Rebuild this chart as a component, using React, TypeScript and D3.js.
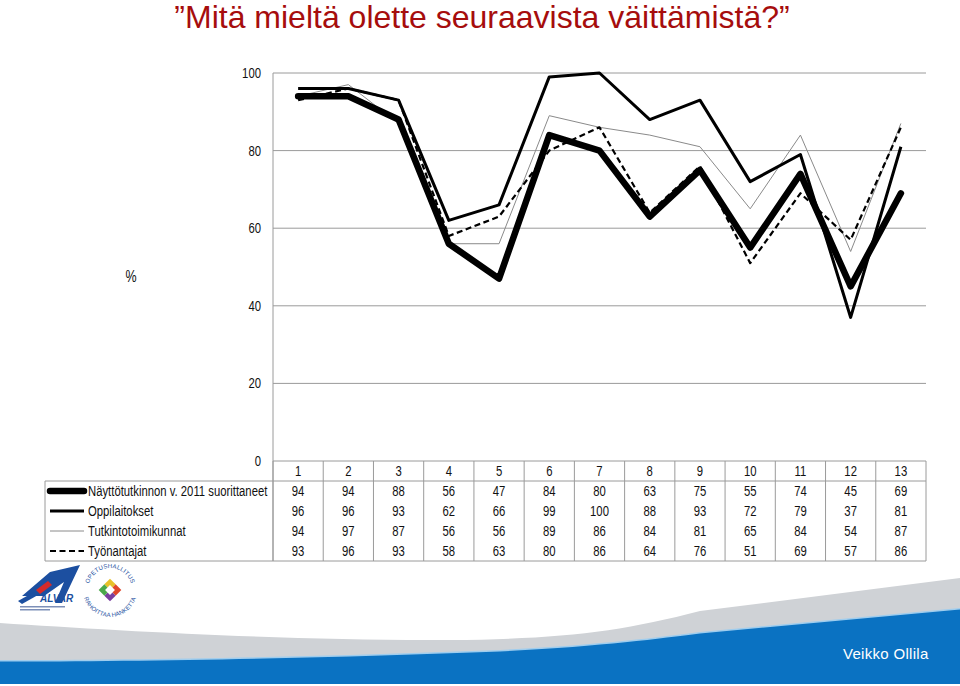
import React from "react";
import * as d3 from "d3";

const categories = ["1", "2", "3", "4", "5", "6", "7", "8", "9", "10", "11", "12", "13"];
const seriesNames = [
  "Näyttötutkinnon v. 2011 suorittaneet",
  "Oppilaitokset",
  "Tutkintotoimikunnat",
  "Työnantajat",
];
const nayttoValues = [94, 94, 88, 56, 47, 84, 80, 63, 75, 55, 74, 45, 69];
const oppilaitosValues = [96, 96, 93, 62, 66, 99, 100, 88, 93, 72, 79, 37, 81];
const tutkintoValues = [94, 97, 87, 56, 56, 89, 86, 84, 81, 65, 84, 54, 87];
const tyonantajaValues = [93, 96, 93, 58, 63, 80, 86, 64, 76, 51, 69, 57, 86];
const yTicks = [0, 20, 40, 60, 80, 100];
const title = "”Mitä mieltä olette seuraavista väittämistä?”";
const yLabel = "%";
const author = "Veikko Ollila";

const seriesValues = [nayttoValues, oppilaitosValues, tutkintoValues, tyonantajaValues];
const seriesStyle = [
  { stroke: "#000", width: 6.5, dash: "" },
  { stroke: "#000", width: 3, dash: "" },
  { stroke: "#8a8a8a", width: 1, dash: "" },
  { stroke: "#000", width: 2.2, dash: "6,3.5" },
];
const drawOrder = [2, 3, 1, 0];

const FONT = "'Liberation Sans', Arial, Helvetica, sans-serif";
const NARROW = 0.78;

function NText({ x, y, anchor = "middle", size = 14, children, fill = "#111" }: any) {
  return (
    <g transform={`translate(${x},${y}) scale(${NARROW},1)`}>
      <text x={0} y={0} textAnchor={anchor} fontSize={size} fontFamily={FONT} fill={fill}>
        {children}
      </text>
    </g>
  );
}

export default function App() {
  const W = 960;
  const H = 686;
  const x = d3.scaleBand<string>().domain(categories).range([273, 926]).padding(0);
  const y = d3.scaleLinear().domain([0, 100]).range([461, 73]);
  const cx = (i: number) => (x(categories[i]) as number) + x.bandwidth() / 2;
  const line = d3
    .line<number>()
    .x((_, i) => cx(i))
    .y((d) => y(d));

  const tableTop = y(0);
  const rowH = 20;
  const legendLeft = 45;
  const tableRight = 926;
  const tableBottom = tableTop + rowH * 5;
  const gridColor = "#9a9a9a";

  return (
    <svg
      width={W}
      height={H}
      viewBox={`0 0 ${W} ${H}`}
      style={{ position: "absolute", left: 0, top: 0, background: "#fff" }}
    >
      <rect x={0} y={0} width={W} height={H} fill="#fff" />
      {/* title */}
      <text x={482} y={28} textAnchor="middle" fontSize={32} fontFamily={FONT} fill="#a60d0d">
        {title}
      </text>

      {/* gridlines */}
      {yTicks.map((t) => (
        <line
          key={"g" + t}
          x1={273}
          x2={tableRight}
          y1={y(t)}
          y2={y(t)}
          stroke={gridColor}
          strokeWidth={1}
        />
      ))}
      <line x1={273} x2={273} y1={y(100)} y2={tableBottom} stroke={gridColor} strokeWidth={1} />
      {yTicks.map((t) => (
        <NText key={"t" + t} x={261} y={y(t) + 5} anchor="end" size={14.5}>
          {t}
        </NText>
      ))}
      <NText x={131} y={282} size={16}>
        {yLabel}
      </NText>

      {/* series lines */}
      {drawOrder.map((s) => (
        <path
          key={"s" + s}
          d={line(seriesValues[s]) || ""}
          fill="none"
          stroke={seriesStyle[s].stroke}
          strokeWidth={seriesStyle[s].width}
          strokeDasharray={seriesStyle[s].dash || undefined}
          strokeLinejoin="round"
          strokeLinecap={s === 0 ? "round" : "butt"}
        />
      ))}

      {/* data table */}
      <line x1={tableRight} x2={tableRight} y1={tableTop} y2={tableBottom} stroke={gridColor} />
      {categories.map((c) => (
        <line
          key={"v" + c}
          x1={x(c) as number}
          x2={x(c) as number}
          y1={tableTop}
          y2={tableBottom}
          stroke={gridColor}
        />
      ))}
      <line x1={legendLeft} x2={tableRight} y1={tableTop + rowH} y2={tableTop + rowH} stroke={gridColor} />
      <line x1={legendLeft} x2={tableRight} y1={tableBottom} y2={tableBottom} stroke={gridColor} />
      <line x1={legendLeft} x2={legendLeft} y1={tableTop + rowH} y2={tableBottom} stroke={gridColor} />
      {categories.map((c, i) => (
        <NText key={"h" + c} x={cx(i)} y={tableTop + 15} size={14.5}>
          {c}
        </NText>
      ))}
      {seriesNames.map((name, s) => {
        const ry = tableTop + rowH * (s + 1) + rowH / 2;
        return (
          <g key={"r" + s}>
            <line
              x1={50}
              x2={84}
              y1={ry}
              y2={ry}
              stroke={seriesStyle[s].stroke}
              strokeWidth={seriesStyle[s].width}
              strokeDasharray={seriesStyle[s].dash || undefined}
              strokeLinecap={s === 0 ? "round" : "butt"}
            />
            <NText x={88} y={ry + 5} anchor="start" size={14.5}>
              {name}
            </NText>
            {seriesValues[s].map((v, i) => (
              <NText key={i} x={cx(i)} y={ry + 5} size={14.5}>
                {v}
              </NText>
            ))}
          </g>
        );
      })}

      {/* bottom decoration */}
      <path
        d="M0,623 C120,631 300,641 450,640 C560,639 620,632 700,611 L960,578 L960,686 L0,686 Z"
        fill="#cfd2d6"
      />
      <path
        d="M0,660 C150,660 350,656 500,650 C600,645 660,637 700,632 L960,608 L960,686 L0,686 Z"
        fill="#9fcdee"
      />
      <path
        d="M0,661.5 C150,661.5 350,657.5 500,651.5 C600,646.5 660,638.5 700,633.5 L960,609.5 L960,684 L0,684 Z"
        fill="#0a72c2"
      />
      <rect x={0} y={684} width={W} height={2} fill="#fff" />
      <text x={843} y={659} fontSize={15} fontFamily={FONT} fill="#fff" letterSpacing={0.3}>
        {author}
      </text>

      {/* ALVAR logo */}
      <g>
        <path d="M22,596 L50,572 L80,565 L62,603 L55,603 L64,582 L44,596 Z" fill="#1c4fa0" />
        <path d="M36,590 L48,581 L52,585 L40,594 Z" fill="#d42a2a" />
        <path d="M18,601 L34,592 L38,595 L22,604 Z" fill="#1c4fa0" />
        <text x={40} y={602} fontSize={10} fontWeight="bold" fontStyle="italic" fontFamily={FONT} fill="#1c4fa0">
          ALVAR
        </text>
        <rect x={20} y={606} width={45} height={1.5} fill="#7d8fb8" />
        <rect x={20} y={609} width={30} height={1.5} fill="#7d8fb8" />
      </g>
      {/* Opetushallitus logo */}
      <g transform="translate(110,590)">
        <defs>
          <path id="arcTop" d="M-20.7,-7.5 A22,22 0 0 1 20.7,-7.5" />
          <path id="arcBot" d="M-25.4,9.2 A27,27 0 0 0 25.4,9.2" />
        </defs>
        <text fontSize={6} fontFamily={FONT} fill="#1c4fa0" letterSpacing={0.2}>
          <textPath href="#arcTop" startOffset="50%" textAnchor="middle">
            OPETUSHALLITUS
          </textPath>
        </text>
        <text fontSize={6} fontFamily={FONT} fill="#1c4fa0" letterSpacing={0.1}>
          <textPath href="#arcBot" startOffset="50%" textAnchor="middle">
            RAHOITTAA HANKETTA
          </textPath>
        </text>
        <g transform="rotate(45)">
          <rect x={-8} y={-8} width={8} height={8} fill="#e8c12a" />
          <rect x={0} y={-8} width={8} height={8} fill="#e0462a" />
          <rect x={0} y={0} width={8} height={8} fill="#7a3ea0" />
          <rect x={-8} y={0} width={8} height={8} fill="#4aa84a" />
          <rect x={-3.5} y={-3.5} width={7} height={7} fill="#fff" />
        </g>
      </g>
    </svg>
  );
}
